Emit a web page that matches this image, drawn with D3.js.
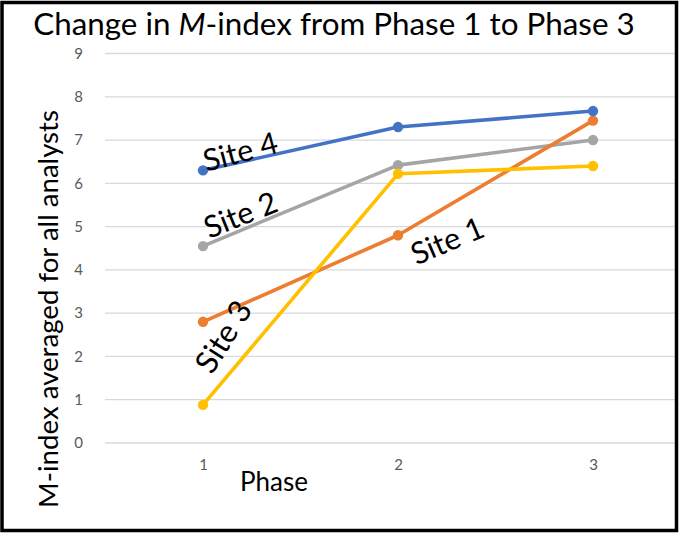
<!DOCTYPE html>
<html><head><meta charset="utf-8">
<script src="https://cdn.jsdelivr.net/npm/d3@7"></script>
<style>body{margin:0;background:#fff}svg{display:block}</style>
</head><body>
<script>
const phases = [1, 2, 3];
const site1 = [2.8, 4.8, 7.45];
const site2 = [4.55, 6.42, 7.0];
const site3 = [0.88, 6.22, 6.4];
const site4 = [6.3, 7.3, 7.67];
const seriesNames = ["Site 1", "Site 2", "Site 3", "Site 4"];
const seriesColors = ["#ED7D31", "#A5A5A5", "#FFC000", "#4472C4"];
const yTicks = [0,1,2,3,4,5,6,7,8,9];

const W = 685, H = 539;
const FONT = "Lato, 'Open Sans', sans-serif";
const svg = d3.select("body").append("svg").attr("width", W).attr("height", H);

const x = d3.scalePoint().domain(phases).range([203, 593]);
const y = d3.scaleLinear().domain([0, 9]).range([443, 53.5]);

// gridlines
svg.append("g").selectAll("line").data(yTicks).join("line")
  .attr("x1", 105).attr("x2", 676)
  .attr("y1", d => y(d)).attr("y2", d => y(d))
  .attr("stroke", "#d9d9d9").attr("stroke-width", 1.3);

// y axis labels
const yAxis = d3.axisLeft(y).tickValues(yTicks).tickSize(0).tickPadding(0);
const gy = svg.append("g").attr("transform", "translate(83,0)").call(yAxis);
gy.select(".domain").remove();
gy.selectAll("text").attr("font-family", FONT).attr("font-size", 15).attr("fill", "#595959");

// x axis labels
const xAxis = d3.axisBottom(x).tickSize(0).tickPadding(0);
const gx = svg.append("g").attr("transform", "translate(0,459)").call(xAxis);
gx.select(".domain").remove();
gx.selectAll("text").attr("font-family", FONT).attr("font-size", 15).attr("fill", "#595959");

const allSeries = [site1, site2, site3, site4];
const line = d3.line().x((d, i) => x(phases[i])).y(d => y(d));
const order = [1, 0, 2, 3];
order.forEach(k => {
  const vals = allSeries[k];
  svg.append("path").datum(vals).attr("d", line)
    .attr("fill", "none").attr("stroke", seriesColors[k]).attr("stroke-width", 3.6)
    .attr("stroke-linejoin", "round");
  svg.append("g").selectAll("circle").data(vals).join("circle")
    .attr("cx", (d, i) => x(phases[i])).attr("cy", d => y(d)).attr("r", 5.2)
    .attr("fill", seriesColors[k]);
});

function fit(sel, target) {
  const w = sel.node().getComputedTextLength();
  const fs = parseFloat(sel.attr("font-size"));
  sel.attr("font-size", fs * target / w);
}

// series labels (placed relative to data points)
const labelDefs = [
  {k: 3, xv: 1.19, yv: 6.76, rot: -15, w: 76},
  {k: 1, xv: 1.19, yv: 5.3, rot: -22, w: 76},
  {k: 0, xv: 2.25, yv: 4.7, rot: -23, w: 76},
  {k: 2, xv: 1.1, yv: 2.47, rot: -58, w: 78}
];
labelDefs.forEach(d => {
  const px = d3.scaleLinear().domain([1, 3]).range([x(1), x(3)])(d.xv);
  const t = svg.append("text").text(seriesNames[d.k])
    .attr("font-family", FONT).attr("font-size", 24).attr("fill", "#000")
    .attr("text-anchor", "middle").attr("dominant-baseline", "central")
    .attr("transform", `translate(${px},${y(d.yv)}) rotate(${d.rot})`);
  fit(t, d.w);
});

// title
const title = svg.append("text").text("")
  .attr("x", 334).attr("y", 35).attr("text-anchor", "middle")
  .attr("font-family", FONT).attr("font-size", 28).attr("fill", "#000");
title.append("tspan").text("Change in ");
title.append("tspan").text("M").attr("font-style", "italic");
title.append("tspan").text("-index from Phase 1 to Phase 3");
fit(title, 602);

// axis titles
const xt = svg.append("text").text("Phase").attr("x", 274).attr("y", 491)
  .attr("text-anchor", "middle").attr("font-family", FONT).attr("font-size", 22).attr("fill", "#000");
fit(xt, 68);
const yt = svg.append("text").text("M-index averaged for all analysts")
  .attr("transform", "translate(58,309) rotate(-90)")
  .attr("text-anchor", "middle").attr("font-family", FONT).attr("font-size", 22).attr("fill", "#000");
fit(yt, 398);

// frame
svg.append("rect").attr("x", 2).attr("y", 2.5).attr("width", 674.5).attr("height", 528)
  .attr("fill", "none").attr("stroke", "#000").attr("stroke-width", 3.5);
</script>
</body></html>
